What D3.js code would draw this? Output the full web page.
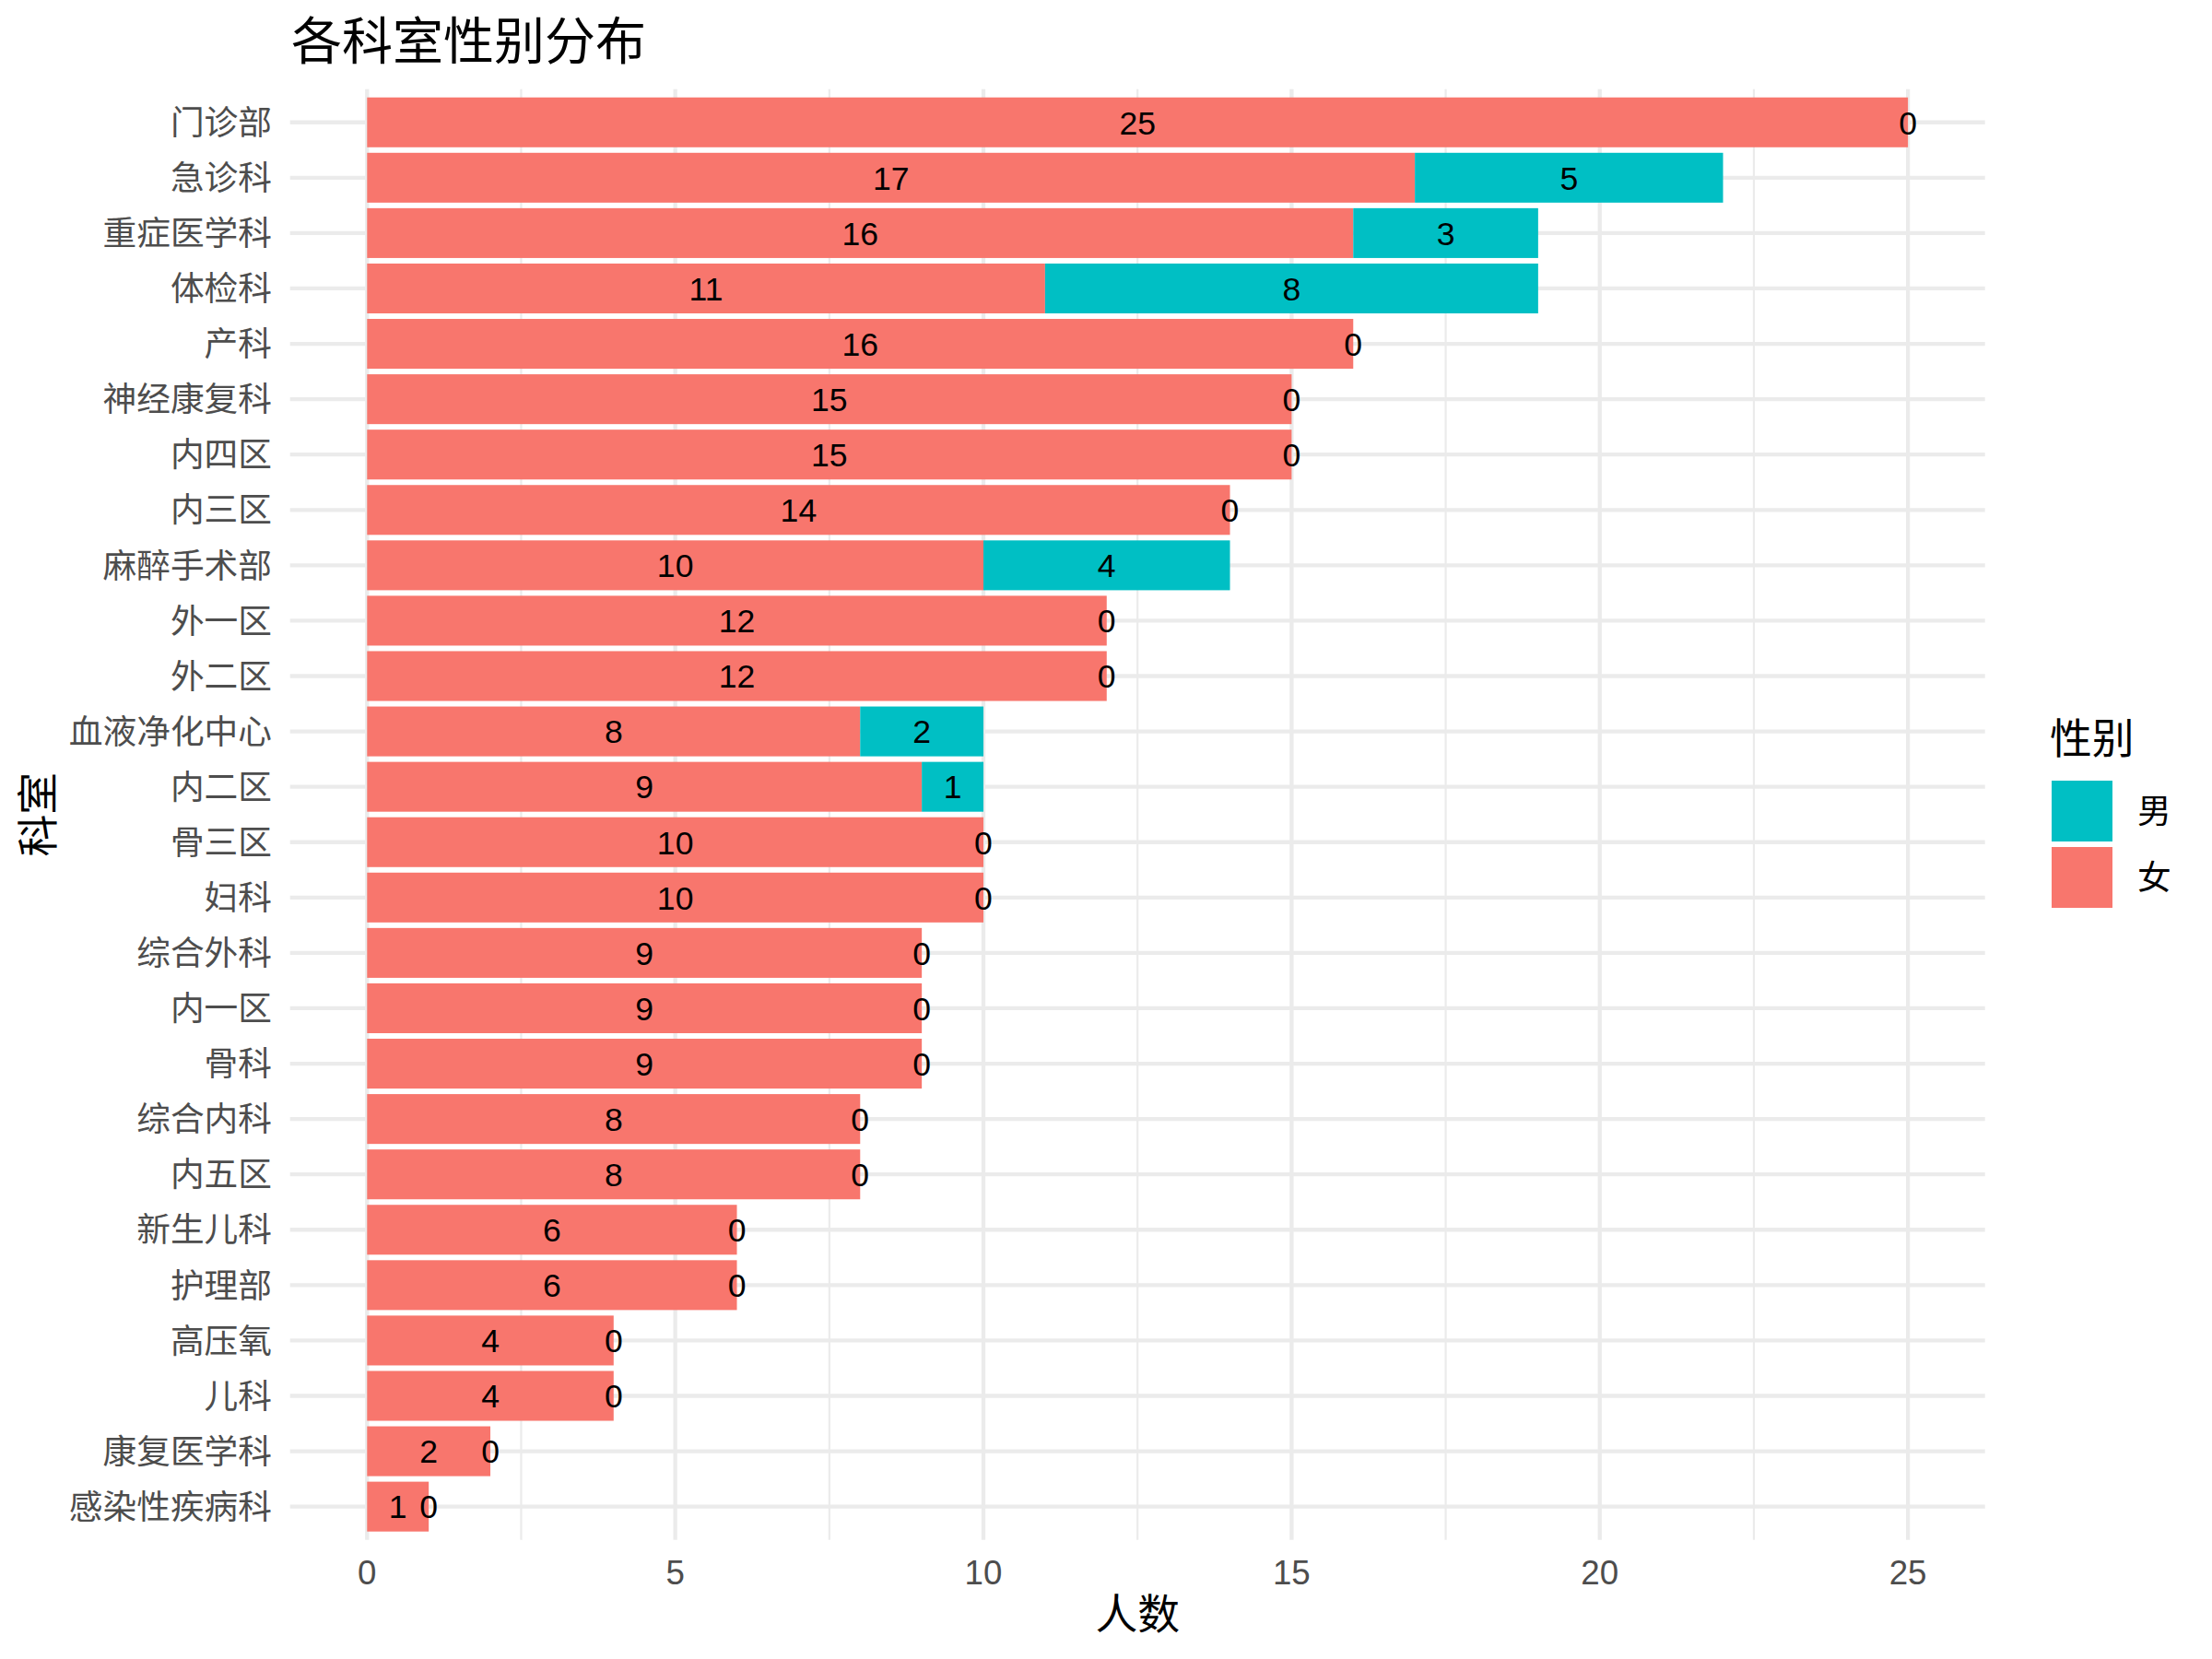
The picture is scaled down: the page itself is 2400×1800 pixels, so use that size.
<!DOCTYPE html>
<html>
<head>
<meta charset="utf-8">
<script src="https://cdn.jsdelivr.net/npm/d3@7"></script>
<style>
  body { margin: 0; background: #fff; }
  text { font-family: "Liberation Sans", "Noto Sans CJK SC", sans-serif; }
</style>
</head>
<body>
<svg id="chart" width="2400" height="1800"></svg>
<script>
const categories = ["门诊部","急诊科","重症医学科","体检科","产科","神经康复科","内四区","内三区","麻醉手术部","外一区","外二区","血液净化中心","内二区","骨三区","妇科","综合外科","内一区","骨科","综合内科","内五区","新生儿科","护理部","高压氧","儿科","康复医学科","感染性疾病科"];
const female = [25,17,16,11,16,15,15,14,10,12,12,8,9,10,10,9,9,9,8,8,6,6,4,4,2,1];
const male   = [0,5,3,8,0,0,0,0,4,0,0,2,1,0,0,0,0,0,0,0,0,0,0,0,0,0];
const xTicks = [0,5,10,15,20,25];
const xMinor = [2.5,7.5,12.5,17.5,22.5];
const legendLabels = ["男","女"];
const colors = {"男":"#00BFC4","女":"#F8766D"};

const svg = d3.select("#chart");
const P = {left: 314.7, right: 2153.7, top: 96.7, bottom: 1670.7};
const cjk = '"Noto Sans CJK SC", "Liberation Sans", sans-serif';

const x = d3.scaleLinear().domain([-1.25, 26.25]).range([P.left, P.right]);
const y = d3.scaleBand().domain(categories).range([P.top, P.bottom]).paddingInner(0.1).paddingOuter(0.15);

// grid
const g = svg.append("g");
g.selectAll(".minor").data(xMinor).join("line")
  .attr("x1", d => x(d)).attr("x2", d => x(d))
  .attr("y1", P.top).attr("y2", P.bottom)
  .attr("stroke", "#EBEBEB").attr("stroke-width", 2.2);
g.selectAll(".major").data(xTicks).join("line")
  .attr("x1", d => x(d)).attr("x2", d => x(d))
  .attr("y1", P.top).attr("y2", P.bottom)
  .attr("stroke", "#EBEBEB").attr("stroke-width", 4.3);
g.selectAll(".hmajor").data(categories).join("line")
  .attr("x1", P.left).attr("x2", P.right)
  .attr("y1", d => y(d) + y.bandwidth()/2).attr("y2", d => y(d) + y.bandwidth()/2)
  .attr("stroke", "#EBEBEB").attr("stroke-width", 4.3);

// data rows
const rows = categories.map((c, i) => ({c, f: female[i], m: male[i]}));

svg.append("g").selectAll("rect.f").data(rows).join("rect")
  .attr("x", x(0)).attr("y", d => y(d.c))
  .attr("width", d => x(d.f) - x(0)).attr("height", y.bandwidth())
  .attr("fill", colors["女"]);
svg.append("g").selectAll("rect.m").data(rows).join("rect")
  .attr("x", d => x(d.f)).attr("y", d => y(d.c))
  .attr("width", d => x(d.f + d.m) - x(d.f)).attr("height", y.bandwidth())
  .attr("fill", colors["男"]);

// labels
const lab = svg.append("g").attr("font-size", 35.6).attr("fill", "#000").attr("text-anchor", "middle");
lab.selectAll("text.f").data(rows).join("text")
  .attr("x", d => x(d.f/2)).attr("y", d => y(d.c) + y.bandwidth()/2)
  .attr("dy", "0.36em").text(d => d.f);
lab.selectAll("text.m").data(rows).join("text")
  .attr("x", d => x(d.f + d.m/2)).attr("y", d => y(d.c) + y.bandwidth()/2)
  .attr("dy", "0.36em").text(d => d.m);

// y axis labels
svg.append("g").selectAll("text").data(categories).join("text")
  .attr("x", 295).attr("y", d => y(d) + y.bandwidth()/2)
  .attr("dy", "0.36em").attr("text-anchor", "end")
  .attr("font-size", 36.7).attr("fill", "#4D4D4D").style("font-family", cjk)
  .text(d => d);

// x axis labels
svg.append("g").selectAll("text").data(xTicks).join("text")
  .attr("x", d => x(d)).attr("y", 1706).attr("dy", "0.36em")
  .attr("text-anchor", "middle").attr("font-size", 36.7).attr("fill", "#4D4D4D")
  .text(d => d);

// axis titles
svg.append("text").attr("x", (P.left + P.right)/2).attr("y", 1752).attr("dy", "0.36em")
  .attr("text-anchor", "middle").attr("font-size", 45.8).style("font-family", cjk).text("人数");
svg.append("text").attr("transform", `translate(41, ${(P.top + P.bottom)/2}) rotate(-90)`)
  .attr("dy", "0.36em").attr("text-anchor", "middle").attr("font-size", 45.8)
  .style("font-family", cjk).text("科室");

// title
svg.append("text").attr("x", 316).attr("y", 44).attr("dy", "0.36em")
  .attr("font-size", 55).style("font-family", cjk).text("各科室性别分布");

// legend
const lg = svg.append("g");
lg.append("text").attr("x", 2224).attr("y", 802).attr("dy", "0.36em")
  .attr("font-size", 45.8).style("font-family", cjk).text("性别");
lg.selectAll("rect").data(legendLabels).join("rect")
  .attr("x", 2226).attr("y", (d, i) => 847 + i * 72)
  .attr("width", 66).attr("height", 66).attr("fill", d => colors[d]);
lg.selectAll("text.l").data(legendLabels).join("text")
  .attr("x", 2319).attr("y", (d, i) => 880 + i * 72).attr("dy", "0.36em")
  .attr("font-size", 36.7).style("font-family", cjk).text(d => d);
</script>
</body>
</html>
